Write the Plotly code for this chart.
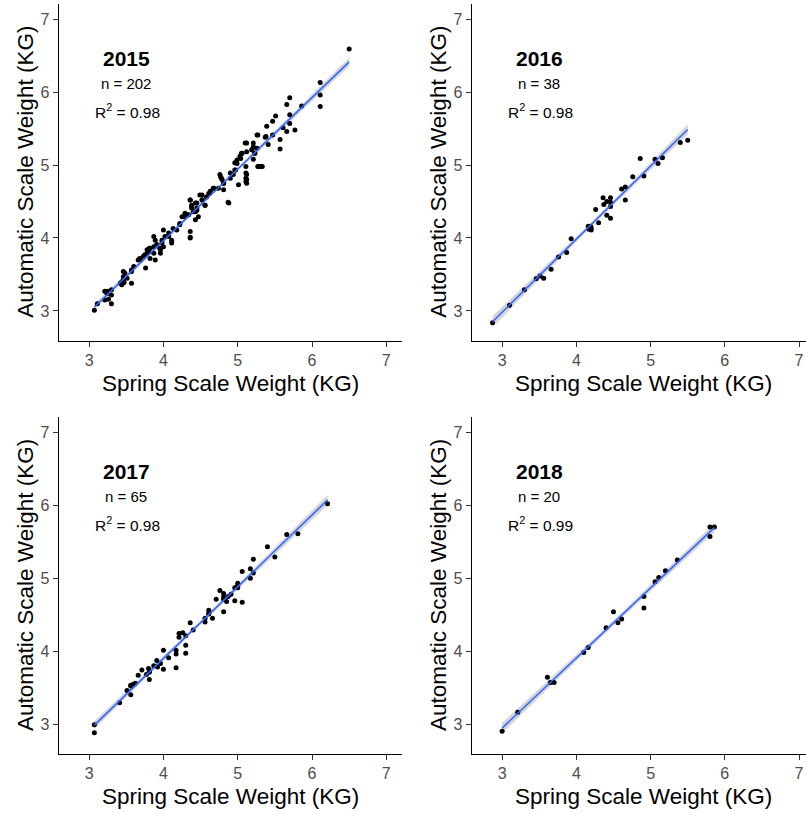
import numpy as np
import plotly.graph_objects as go

# ---------------- data ----------------
years = ["2015", "2016", "2017", "2018"]
n_labels = ["n = 202", "n = 38", "n = 65", "n = 20"]
r2_labels = ["0.98", "0.98", "0.98", "0.99"]

x2015 = [3.07, 3.11, 3.21, 3.21, 3.26, 3.30, 3.30, 3.30, 3.25, 3.42, 3.44, 3.46, 3.48, 3.51, 3.57, 3.57,
         3.60, 3.57, 3.44, 3.47, 3.69, 3.73, 3.76, 3.78, 3.78, 3.81, 3.82, 3.87, 3.87, 3.89, 3.91, 3.95,
         3.96, 3.98, 4.00, 4.02, 4.00, 4.07, 4.11, 4.11, 4.13, 4.18, 4.22, 4.25, 4.29, 4.34, 4.36, 4.36,
         4.36, 4.38, 4.40, 4.43, 4.45, 4.47, 4.49, 4.52, 4.56, 4.58, 4.61, 4.67, 4.74, 4.78, 4.76, 4.81,
         4.81, 4.87, 4.90, 4.94, 4.96, 4.96, 4.99, 5.01, 5.03, 5.05, 5.10, 5.11, 5.11, 5.11, 5.11, 5.12,
         5.19, 5.21, 5.21, 5.23, 5.26, 5.26, 5.28, 5.33, 5.37, 5.39, 5.41, 5.47, 5.51, 5.47, 5.57, 5.57,
         5.61, 5.66, 5.66, 5.70, 5.70, 5.70, 5.77, 5.86, 6.11, 6.11, 6.11, 6.50,
         3.24, 3.46, 3.46, 3.66, 3.68, 3.75, 3.80, 3.82, 3.87, 3.89, 3.96, 3.98, 4.07, 4.22, 4.31, 4.36,
         4.38, 4.43, 4.45,
         4.27, 4.31, 4.36, 4.38, 4.43, 4.45, 4.52, 4.52, 4.56, 4.63, 4.68, 4.77, 4.79, 4.81, 4.88, 4.90,
         4.97, 4.99, 5.04, 5.06, 5.12, 5.12, 5.12, 5.12, 5.19, 5.21, 5.23, 5.27, 5.31, 5.27, 5.38]
y2015 = [3.01, 3.10, 3.27, 3.15, 3.16, 3.22, 3.29, 3.10, 3.27, 3.38, 3.40, 3.47, 3.52, 3.45, 3.38, 3.56,
         3.61, 3.54, 3.36, 3.39, 3.70, 3.75, 3.59, 3.79, 3.84, 3.86, 3.72, 4.02, 3.79, 3.70, 3.91, 3.86,
         3.79, 3.97, 4.11, 4.02, 3.88, 4.07, 3.97, 3.93, 4.13, 4.11, 4.18, 4.29, 4.34, 4.32, 4.52, 4.09,
         4.01, 4.45, 4.36, 4.25, 4.41, 4.29, 4.59, 4.52, 4.45, 4.56, 4.61, 4.68, 4.68, 4.82, 4.87, 4.75,
         4.66, 4.49, 4.82, 4.87, 4.93, 5.03, 5.07, 4.73, 5.12, 5.16, 5.30, 4.98, 4.89, 4.82, 4.77, 5.18,
         5.21, 5.30, 5.08, 5.16, 5.23, 5.41, 4.98, 4.98, 5.38, 5.53, 5.28, 5.60, 5.67, 5.41, 5.35, 5.22,
         5.51, 5.83, 5.46, 5.92, 5.57, 5.69, 5.48, 5.81, 6.13, 5.96, 5.80, 6.59,
         3.24, 3.43, 3.54, 3.70, 3.72, 3.77, 3.81, 3.86, 3.88, 3.97, 3.84, 3.93, 4.02, 4.20, 4.32, 4.00,
         4.41, 4.48, 4.38,
         4.29, 4.32, 4.52, 4.43, 4.36, 4.48, 4.59, 4.52, 4.45, 4.64, 4.68, 4.84, 4.80, 4.75, 4.48, 4.89,
         4.93, 5.02, 5.09, 5.16, 5.30, 4.87, 4.80, 4.75, 5.21, 5.25, 5.16, 4.98, 4.98, 5.41, 5.39]

x2016 = [2.87, 3.10, 3.30, 3.46, 3.51, 3.56, 3.66, 3.76, 3.87, 3.93, 4.16, 4.18, 4.20, 4.19, 4.17, 4.26,
         4.30, 4.36, 4.37, 4.41, 4.41, 4.46, 4.46, 4.46, 4.46, 4.61, 4.66, 4.66, 4.76, 4.86, 4.91, 5.06,
         5.10, 5.16, 5.40, 5.50, 4.18, 4.20]
y2016 = [2.84, 3.08, 3.29, 3.44, 3.48, 3.45, 3.57, 3.74, 3.80, 3.99, 4.16, 4.13, 4.11, 4.16, 4.12, 4.39,
         4.21, 4.55, 4.46, 4.50, 4.31, 4.55, 4.49, 4.43, 4.27, 4.67, 4.70, 4.52, 4.84, 5.09, 4.85, 5.08,
         5.02, 5.10, 5.31, 5.34, 4.15, 4.14]

x2017 = [3.07, 3.07, 3.41, 3.51, 3.56, 3.56, 3.59, 3.62, 3.66, 3.71, 3.77, 3.80, 3.81, 3.81, 3.87, 3.91,
         3.92, 3.96, 4.00, 4.00, 4.07, 4.17, 4.17, 4.17, 4.21, 4.21, 4.26, 4.30, 4.30, 4.30, 4.36, 4.40,
         4.56, 4.56, 4.61, 4.61, 4.66, 4.71, 4.76, 4.81, 4.81, 4.81, 4.85, 4.87, 4.91, 4.96, 4.96, 5.00,
         5.00, 5.06, 5.06, 5.17, 5.17, 5.21, 5.21, 5.40, 5.50, 5.66, 5.81, 6.21, 3.56, 3.81, 4.61, 4.81,
         5.00]
y2017 = [2.99, 2.88, 3.29, 3.46, 3.40, 3.53, 3.54, 3.56, 3.67, 3.74, 3.68, 3.76, 3.61, 3.71, 3.80, 3.87,
         3.78, 3.83, 4.01, 3.75, 3.91, 4.01, 3.96, 3.77, 4.24, 4.19, 4.25, 4.21, 4.08, 3.97, 4.39, 4.29,
         4.45, 4.40, 4.56, 4.51, 4.45, 4.71, 4.83, 4.79, 4.71, 4.54, 4.68, 4.75, 4.78, 4.69, 4.87, 4.93,
         4.87, 5.09, 4.67, 5.00, 5.13, 5.26, 5.07, 5.43, 5.29, 5.60, 5.61, 6.02, 3.52, 3.73, 4.52, 4.74,
         4.90]

x2018 = [3.00, 3.21, 3.61, 3.65, 3.70, 4.10, 4.16, 4.40, 4.50, 4.56, 4.61, 4.91, 4.91, 5.06, 5.11, 5.20,
         5.36, 5.80, 5.86, 5.80]
y2018 = [2.90, 3.16, 3.64, 3.57, 3.57, 3.98, 4.05, 4.32, 4.54, 4.39, 4.44, 4.75, 4.59, 4.95, 5.01, 5.10,
         5.25, 5.70, 5.70, 5.57]

xs = [x2015, x2016, x2017, x2018]
ys = [y2015, y2016, y2017, y2018]

tick_vals = [3, 4, 5, 6, 7]

# ---------------- layout geometry ----------------
W, H = 806, 813
FONT = "Liberation Sans, Arial, sans-serif"


def px_x(p):
    return p / W


def px_y(p):
    return 1 - p / H


col_dom = [[px_x(58.7), px_x(401.9)], [px_x(471.7), 1.0]]
col_xrange = [[2.59, 7.21], [2.59, 7.094]]
row_dom = [[px_y(340.9), px_y(3.7)], [px_y(753.9), px_y(417.0)]]
yrange = [2.59, 7.21]


def t975(df):
    z = 1.959964
    return z + (z ** 3 + z) / (4 * df) + (5 * z ** 5 + 16 * z ** 3 + 3 * z) / (96 * df ** 2)


fig = go.Figure()
layout = dict(
    width=W, height=H, margin=dict(l=0, r=0, t=0, b=0),
    paper_bgcolor="white", plot_bgcolor="white", showlegend=False,
    font=dict(family=FONT, color="black"),
)
annotations = []

for i in range(4):
    r, c = divmod(i, 2)
    k = "" if i == 0 else str(i + 1)
    xa, ya = "x" + k, "y" + k
    x = np.array(xs[i], dtype=float)
    y = np.array(ys[i], dtype=float)
    n = len(x)
    b1, b0 = np.polyfit(x, y, 1)
    xg = np.linspace(x.min(), x.max(), 80)
    yg = b0 + b1 * xg
    resid = y - (b0 + b1 * x)
    s = np.sqrt(np.sum(resid ** 2) / (n - 2))
    sxx = np.sum((x - x.mean()) ** 2)
    se = s * np.sqrt(1.0 / n + (xg - x.mean()) ** 2 / sxx)
    tq = t975(n - 2)
    lo, hi = yg - tq * se, yg + tq * se

    fig.add_trace(go.Scatter(x=np.concatenate([xg, xg[::-1]]), y=np.concatenate([hi, lo[::-1]]),
                             fill="toself", fillcolor="rgba(153,153,153,0.4)", line=dict(width=0),
                             mode="lines", hoverinfo="skip", xaxis=xa, yaxis=ya))
    fig.add_trace(go.Scatter(x=x, y=y, mode="markers",
                             marker=dict(color="black", size=5, line=dict(width=0)),
                             xaxis=xa, yaxis=ya))
    fig.add_trace(go.Scatter(x=xg, y=yg, mode="lines", line=dict(color="#3366FF", width=1.6),
                             xaxis=xa, yaxis=ya))

    axis_common = dict(
        showgrid=False, zeroline=False, showline=True, linecolor="black", linewidth=1.1,
        ticks="outside", ticklen=5, tickwidth=1.1, tickcolor="#333333",
        tickvals=tick_vals, tickfont=dict(family=FONT, size=16, color="#4D4D4D"),
        fixedrange=True,
    )
    layout["xaxis" + k] = dict(axis_common, domain=col_dom[c], range=col_xrange[c], anchor=ya)
    layout["yaxis" + k] = dict(axis_common, domain=row_dom[r], range=yrange, anchor=xa)

    # in-panel labels
    annotations.append(dict(x=3.5, y=6.46, xref=xa, yref=ya, text="<b>" + years[i] + "</b>",
                            showarrow=False, font=dict(family=FONT, size=21, color="black"),
                            xanchor="center", yanchor="middle"))
    annotations.append(dict(x=3.5, y=6.12, xref=xa, yref=ya, text=n_labels[i],
                            showarrow=False, font=dict(family=FONT, size=15, color="black"),
                            xanchor="center", yanchor="middle"))
    annotations.append(dict(x=3.52, y=5.74, xref=xa, yref=ya,
                            text="R<sup>2</sup> = " + r2_labels[i],
                            showarrow=False, font=dict(family=FONT, size=15.5, color="black"),
                            xanchor="center", yanchor="middle"))

    # axis titles
    xcenter_px = [230.3, 643.0][c]
    xt_y_px = [383.0, 796.0][r]
    annotations.append(dict(x=px_x(xcenter_px), y=px_y(xt_y_px), xref="paper", yref="paper",
                            text="Spring Scale Weight (KG)", showarrow=False,
                            font=dict(family=FONT, size=22.5, color="black"),
                            xanchor="center", yanchor="middle"))
    yt_x_px = [25.5, 438.5][c]
    yt_y_px = [172.3, 585.5][r]
    annotations.append(dict(x=px_x(yt_x_px), y=px_y(yt_y_px), xref="paper", yref="paper",
                            text="Automatic Scale Weight (KG)", showarrow=False, textangle=-90,
                            font=dict(family=FONT, size=22.5, color="black"),
                            xanchor="center", yanchor="middle"))

layout["annotations"] = annotations
fig.update_layout(**layout)
fig.write_html("out.html", config={"displayModeBar": False},
               post_script="document.body.style.margin='0';document.body.style.padding='0';"
                           "document.body.style.overflow='hidden';")
